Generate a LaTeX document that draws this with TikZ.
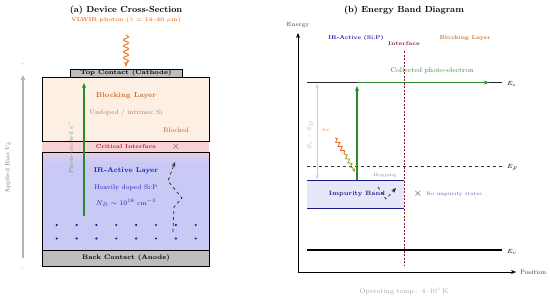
\documentclass[tikz,border=0pt]{standalone}
\usetikzlibrary{arrows.meta,decorations.pathmorphing}
\definecolor{photon}{HTML}{F07A2A}
\definecolor{blockfill}{HTML}{FDEFE3}
\definecolor{blocktxt}{HTML}{D0702E}
\definecolor{undoped}{HTML}{B07A5A}
\definecolor{blocked}{HTML}{C0504A}
\definecolor{critfill}{HTML}{F9D2D8}
\definecolor{crittxt}{HTML}{C0182E}
\definecolor{irfill}{HTML}{C9C9F6}
\definecolor{irtxt}{HTML}{2020B0}
\definecolor{contact}{HTML}{BDBDBD}
\definecolor{egreen}{HTML}{2A8A2A}
\definecolor{pegray}{HTML}{6E8E6E}
\definecolor{biasgray}{HTML}{B4B4B4}
\definecolor{ifred}{HTML}{8B1A2A}
\definecolor{ibfill}{HTML}{E7E7FA}
\definecolor{navy}{HTML}{1A1A8A}
\definecolor{olive}{HTML}{A0A020}
\definecolor{nostate}{HTML}{6A50C0}
\newcommand{\fsz}[1]{\fontsize{#1}{#1}\selectfont}
\begin{document}
\begin{tikzpicture}[x=1pt,y=-1pt,
  txt/.style={inner sep=0pt, outer sep=0pt},
  title/.style={txt, font=\fsz{8.8}\bfseries},
  layerbox/.style={draw=black, line width=0.8pt},
  band/.style={line width=1.3pt},
  photonwave/.style={decorate, decoration={snake, amplitude=2.6pt, segment length=6pt, post length=4pt}},
  tip/.style={-{Stealth[length=5pt,width=4pt]}}
]
\useasboundingbox (0,0) rectangle (550,300);

% ================= (a) Device cross-section =================
\node[title] (ta) at (126,10) {(a) Device Cross-Section};
\node[txt, font=\fsz{5.6}\bfseries, text=photon] (photonlbl) at (126,20) {VLWIR photon ($\lambda$ = 14--40 $\mu$m)};
\coordinate (ph0) at (126,35);
\coordinate (ph1) at (126,67);
\draw[photon, line width=1pt, photonwave, tip] (ph0) -- (ph1);

% layers
\fill[blockfill] (42,77) rectangle (209,141);
\fill[critfill] (42,141) rectangle (209,152);
\fill[irfill] (42,152) rectangle (209,250);
\shade[top color=critfill!60!irfill, bottom color=irfill] (42,152) rectangle (209,163);
\draw[layerbox] (42,77) rectangle (209,141);
\draw[layerbox] (42,152) rectangle (209,250);
\draw[layerbox, fill=contact] (42,250) rectangle (209,266);
\draw[layerbox, fill=contact] (70,69) rectangle (182,77);

\node[txt, font=\fsz{6.4}\bfseries] (topc) at (126,73) {Top Contact (Cathode)};
\node[txt, font=\fsz{7.1}\bfseries, text=blocktxt] (blk) at (126,96) {Blocking Layer};
\node[txt, font=\fsz{6.5}, text=undoped] (undop) at (126,113) {Undoped / intrinsic Si};
\node[txt, font=\fsz{6.6}, text=blocked] (blkd) at (176,130) {Blocked};
\node[txt, font=\fsz{5.8}\bfseries, text=crittxt] (crit) at (126,147) {Critical Interface};
\node[txt, font=\fsz{11}, text=crittxt] (critx) at (176,147) {$\times$};
\node[txt, font=\fsz{7.1}\bfseries, text=irtxt] (irl) at (126,171) {IR-Active Layer};
\node[txt, font=\fsz{6.6}, text=irtxt] (heavy) at (126,188) {Heavily doped Si:P};
\node[txt, font=\fsz{6.6}, text=irtxt] (nd) at (126,203) {$N_D \sim 10^{18}$ cm$^{-3}$};
\node[txt, font=\fsz{6.4}\bfseries] (backc) at (126,258) {Back Contact (Anode)};

% donor dots
\foreach \i in {0,...,7}{
  \fill[navy] (56.7+19.86*\i,225) circle (1.2pt);
  \fill[navy] (56.7+19.86*\i,238.5) circle (1.2pt);
}

% photo-excited electron
\coordinate (pe0) at (84,216);
\coordinate (pe1) at (84,83);
\draw[egreen, line width=1.3pt, tip] (pe0) -- (pe1);
\node[txt, font=\fsz{5.6}, text=pegray, rotate=90] (pelbl) at (70,147) {Photo-excited $e^-$};

% hopping path (dashed)
\coordinate (hp0) at (173,232);
\coordinate (hp1) at (174,207);
\coordinate (hp2) at (182,198);
\coordinate (hp3) at (168,181);
\coordinate (hp4) at (175,162);
\draw[black!80, line width=0.8pt, dashed, tip] (hp0) -- (hp1) -- (hp2) -- (hp3) -- (hp4);

% applied bias
\coordinate (b0) at (23,258);
\coordinate (b1) at (23,75);
\draw[biasgray, line width=1.2pt, -{Triangle[length=5pt,width=4.5pt]}] (b0) -- (b1);
\node[txt, font=\fsz{5}, text=biasgray] (bplus) at (23,64) {+};
\node[txt, font=\fsz{5}, text=biasgray] (bminus) at (23,268) {$-$};
\node[txt, font=\fsz{6}, text=black!55, rotate=90] (blbl) at (8,168) {Applied Bias $V_b$};

% ================= (b) Energy band diagram =================
\node[title] (tb) at (404,10) {(b) Energy Band Diagram};

\coordinate (orig) at (298,272);
\coordinate (ytop) at (298,33);
\coordinate (xend) at (516,272);
\draw[black, line width=0.9pt, tip] (orig) -- (ytop);
\draw[black, line width=0.9pt, tip] (orig) -- (xend);
\node[txt, font=\fsz{6}, text=black!75] (elbl) at (298,25) {Energy};
\node[txt, font=\fsz{6.5}, text=black!80, anchor=west] (plbl) at (520,272) {Position};

% region labels
\node[txt, font=\fsz{5.6}\bfseries, text=irtxt] (irreg) at (356,38) {IR-Active (Si:P)};
\node[txt, font=\fsz{5.4}\bfseries, text=ifred] (iflbl) at (404,44) {Interface};
\node[txt, font=\fsz{5.6}\bfseries, text=blocktxt] (blreg) at (465,38) {Blocking Layer};

% impurity band
\fill[ibfill] (307,180) rectangle (404,208);
\draw[navy, line width=0.9pt] (307,180) -- (404,180);
\draw[navy, line width=0.9pt] (307,208) -- (404,208);
\node[txt, font=\fsz{6.2}\bfseries, text=navy] (iblbl) at (357,194) {Impurity Band};
\node[txt, font=\fsz{4.6}, text=black!45] (hoplbl) at (385,175.5) {Hopping};
\coordinate (h0) at (378,187);
\coordinate (h1) at (386,199);
\coordinate (h2) at (396,188);
\draw[black!85, line width=0.7pt, dashed, tip] (h0) -- (h1) -- (h2);

% bands
\coordinate (ec0) at (307,82.5);
\coordinate (ec1) at (502,82.5);
\draw[black!85, band] (ec0) -- (ec1);
\node[txt, font=\fsz{6.5}, anchor=west] (eclbl) at (507,84) {$E_c$};
\coordinate (ef0) at (307,166.5);
\coordinate (ef1) at (502,166.5);
\draw[black!80, line width=0.9pt, dashed] (ef0) -- (ef1);
\node[txt, font=\fsz{6.5}, anchor=west] (eflbl) at (507,167.5) {$E_F$};
\coordinate (ev0) at (307,250);
\coordinate (ev1) at (502,250);
\draw[black, line width=1.1pt] (ev0) -- (ev1);
\node[txt, font=\fsz{6.5}, anchor=west] (evlbl) at (507,251.5) {$E_v$};

% interface line
\coordinate (if0) at (404,51);
\coordinate (if1) at (404,265);
\draw[ifred, line width=1pt, dash pattern=on 2pt off 1.5pt] (if0) -- (if1);

% collected electron
\coordinate (ce0) at (357,82.5);
\coordinate (ce1) at (489,82.5);
\draw[egreen, band, tip] (ce0) -- (ce1);
\node[txt, font=\fsz{6.8}, text=egreen] (celbl) at (432,71) {Collected photo-electron};

% excitation
\coordinate (ex0) at (357,180);
\coordinate (ex1) at (357,86);
\draw[egreen, band, tip] (ex0) -- (ex1);

% activation energy
\coordinate (ea0) at (317,84);
\coordinate (ea1) at (317,179);
\draw[black!20, line width=1pt, {Stealth[length=4pt,width=3pt]}-{Stealth[length=4pt,width=3pt]}] (ea0) -- (ea1);
\node[txt, font=\fsz{5}, text=black!30, rotate=90] (ealbl) at (310,135) {$E_c - E_D$};

% photon hv
\node[txt, font=\fsz{5}, text=photon] (hvlbl) at (326,130) {$h\nu$};
\coordinate (w0) at (335,138);
\coordinate (wm) at (345,154.5);
\coordinate (w1) at (355,172);
\draw[photon!80!red, line width=0.8pt, decorate, decoration={snake, amplitude=1.8pt, segment length=4.8pt}] (w0) -- (wm);
\draw[olive, line width=0.8pt, decorate, decoration={snake, amplitude=1.8pt, segment length=4.8pt, post length=3pt}, -{Stealth[length=4pt,width=3.5pt]}] (wm) -- (w1);

% no impurity states
\node[txt, font=\fsz{11}, text=black!60!brown] (nox) at (418,194) {$\times$};
\node[txt, font=\fsz{5}, text=nostate, anchor=west] (nolbl) at (426,194) {No impurity states};

\node[txt, font=\fsz{6.8}, text=black!35] (optemp) at (404,291) {Operating temp.: 4--10$^{\circ}$\,K};
\end{tikzpicture}
\end{document}
